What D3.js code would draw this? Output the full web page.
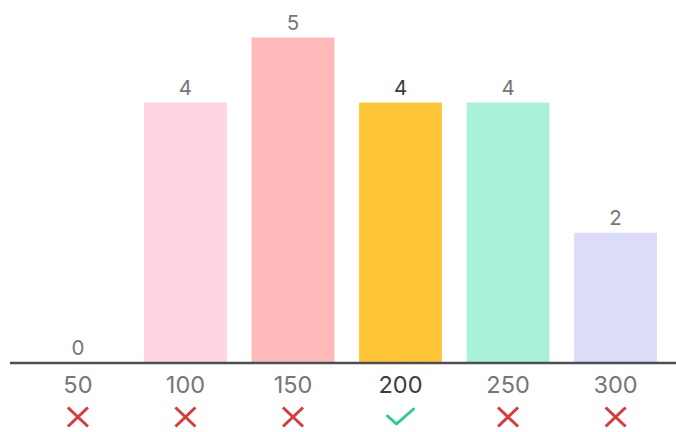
<!DOCTYPE html>
<html>
<head>
<meta charset="utf-8">
<script src="https://cdn.jsdelivr.net/npm/d3@7"></script>
<style>
  html, body { margin: 0; padding: 0; background: #fff; }
  svg { display: block; }
  text { font-family: "Inter", "Liberation Sans", sans-serif; }
</style>
</head>
<body>
<svg id="chart" width="676" height="432"></svg>
<script>
// Bin labels, counts and per-bar styling
const categories = ["50", "100", "150", "200", "250", "300"];
const counts = [0, 4, 5, 4, 4, 2];
const barColors = ["#f0f0f0", "#fed3e2", "#ffb9b9", "#fec536", "#a9f1d8", "#dadcf8"];
const correct = [false, false, false, true, false, false];

const svg = d3.select("#chart");
const W = 676, H = 432;
const baseY = 363;

const x = d3.scaleBand()
  .domain(categories)
  .range([15, 678.5])
  .paddingInner(0.23)
  .paddingOuter(0.2);

const y = d3.scaleLinear()
  .domain([0, 5])
  .range([baseY, 37.5]);

const data = categories.map((c, i) => ({ cat: c, v: counts[i], color: barColors[i], ok: correct[i] }));

// Bars
svg.append("g").selectAll("rect")
  .data(data.filter(d => d.v > 0))
  .join("rect")
  .attr("x", d => x(d.cat))
  .attr("y", d => y(d.v))
  .attr("width", x.bandwidth())
  .attr("height", d => y(0) - y(d.v))
  .attr("fill", d => d.color);

// Value labels above bars
svg.append("g").selectAll("text")
  .data(data)
  .join("text")
  .attr("x", d => x(d.cat) + x.bandwidth() / 2)
  .attr("y", d => y(d.v) - 8)
  .attr("text-anchor", "middle")
  .attr("font-size", 20.5)
  .attr("fill", d => d.ok ? "#3a3d42" : "#767676")
  .text(d => d.v);

// Baseline axis
const axis = d3.axisBottom(x).tickSize(0).tickPadding(0);
const gAxis = svg.append("g")
  .attr("transform", `translate(0,${baseY})`)
  .call(axis);
gAxis.select(".domain").remove();
gAxis.append("line")
  .attr("x1", 10).attr("x2", W)
  .attr("y1", 0).attr("y2", 0)
  .attr("stroke", "#4a4e55")
  .attr("stroke-width", 2.5);
gAxis.selectAll(".tick text")
  .attr("y", 29.5)
  .attr("dy", 0)
  .attr("font-size", 23.5)
  .attr("font-family", "Inter, 'Liberation Sans', sans-serif")
  .attr("fill", (d, i) => correct[i] ? "#3a3d42" : "#767676");

// Result marks: check for the right bin, cross for the others
const marks = svg.append("g").selectAll("g")
  .data(data)
  .join("g")
  .attr("transform", d => `translate(${x(d.cat) + x.bandwidth() / 2},417)`);

marks.filter(d => !d.ok)
  .append("path")
  .attr("d", "M-10,-9.5L10,9.5M10,-9.5L-10,9.5")
  .attr("stroke", "#d93a3a")
  .attr("stroke-width", 3)
  .attr("fill", "none");

marks.filter(d => d.ok)
  .append("path")
  .attr("d", "M-13,-1L-4,7L13,-8")
  .attr("stroke", "#2ecc8a")
  .attr("stroke-width", 3)
  .attr("stroke-linecap", "round")
  .attr("stroke-linejoin", "round")
  .attr("fill", "none");
</script>
</body>
</html>
